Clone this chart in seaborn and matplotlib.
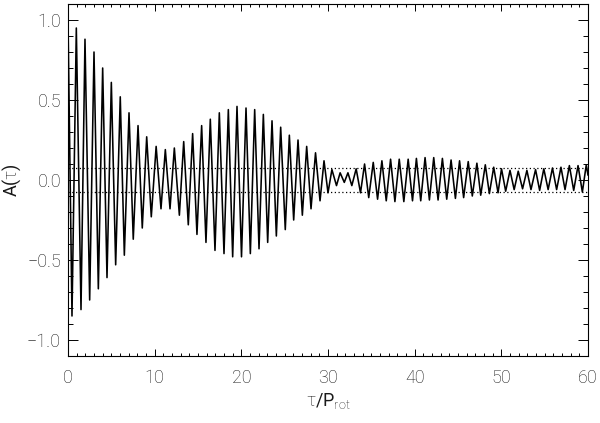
import numpy as np
import pandas as pd
import matplotlib
matplotlib.use("Agg")
import matplotlib.pyplot as plt
from matplotlib.ticker import MultipleLocator
import seaborn as sns

# ── Data: turning points of A(tau) ─────────────────────────────────────────
tau = [
    0.00, 0.46, 0.96, 1.50, 1.96, 2.50, 3.00, 3.50, 4.00, 4.50,
    5.00, 5.50, 6.03, 6.50, 7.04, 7.53, 8.08, 8.57, 9.08, 9.61,
    10.17, 10.73, 11.23, 11.77, 12.27, 12.85, 13.35, 13.88, 14.38, 14.88,
    15.42, 15.92, 16.42, 16.96, 17.46, 18.00, 18.50, 19.00, 19.50, 20.02,
    20.54, 21.04, 21.54, 22.04, 22.54, 23.04, 23.54, 24.04, 24.54, 25.07,
    25.54, 26.04, 26.54, 27.04, 27.54, 28.04, 28.56, 29.08, 29.54, 30.00,
    30.45, 30.98, 31.40, 31.88, 32.30, 32.75, 33.25, 33.75, 34.22, 34.70,
    35.22, 35.72, 36.22, 36.72, 37.22, 37.72, 38.22, 38.75, 39.25, 39.75,
    40.20, 40.70, 41.20, 41.70, 42.20, 42.70, 43.20, 43.70, 44.20, 44.70,
    45.18, 45.65, 46.18, 46.65, 47.18, 47.62, 48.15, 48.62, 49.12, 49.62,
    50.02, 50.50, 51.00, 51.48, 51.95, 52.45, 52.95, 53.42, 53.95, 54.42,
    54.90, 55.40, 55.90, 56.38, 56.88, 57.35, 57.85, 58.35, 58.85, 59.35,
    59.80, 60.00,
]
acf = [
    1.00, -0.85, 0.95, -0.81, 0.88, -0.75, 0.80, -0.68, 0.70, -0.61,
    0.61, -0.53, 0.52, -0.47, 0.42, -0.37, 0.34, -0.30, 0.27, -0.23,
    0.21, -0.18, 0.19, -0.18, 0.20, -0.22, 0.24, -0.28, 0.29, -0.34,
    0.34, -0.39, 0.38, -0.44, 0.42, -0.46, 0.44, -0.48, 0.46, -0.48,
    0.45, -0.46, 0.44, -0.43, 0.41, -0.39, 0.37, -0.35, 0.33, -0.31,
    0.28, -0.25, 0.25, -0.22, 0.21, -0.18, 0.17, -0.13, 0.12, -0.08,
    0.065, -0.035, 0.045, -0.015, 0.045, -0.035, 0.07, -0.08, 0.10, -0.11,
    0.11, -0.12, 0.12, -0.13, 0.13, -0.135, 0.13, -0.135, 0.13, -0.13,
    0.135, -0.13, 0.14, -0.125, 0.14, -0.125, 0.135, -0.12, 0.125, -0.115,
    0.12, -0.11, 0.115, -0.10, 0.105, -0.095, 0.095, -0.085, 0.08, -0.08,
    0.07, -0.07, 0.06, -0.06, 0.055, -0.055, 0.06, -0.06, 0.065, -0.065,
    0.07, -0.06, 0.075, -0.06, 0.08, -0.06, 0.09, -0.065, 0.09, -0.075,
    0.095, 0.03,
]
sig_level = 0.075  # dotted band +/-

xticks = [0, 10, 20, 30, 40, 50, 60]
yticks = [-1.0, -0.5, 0.0, 0.5, 1.0]

df = pd.DataFrame({"tau": tau, "A": acf})

# ── Style ──────────────────────────────────────────────────────────────────
sns.set_style("ticks")
plt.rcParams["font.family"] = ["Roboto", "DejaVu Sans"]
plt.rcParams["font.weight"] = "light"
plt.rcParams["mathtext.fontset"] = "custom"
plt.rcParams["mathtext.rm"] = "Roboto:light"
plt.rcParams["mathtext.it"] = "Roboto:light"
plt.rcParams["axes.unicode_minus"] = True
txt_col = "#1a1a1a"

fig = plt.figure(figsize=(6.0, 4.23), dpi=100)
ax = fig.add_axes([68 / 600, 1 - 356 / 423, 520 / 600, 352 / 423])

sns.lineplot(data=df, x="tau", y="A", sort=False, estimator=None,
             color="black", linewidth=1.15, ax=ax)
for ln in ax.get_lines():
    ln.set_solid_joinstyle("round")
for lev in (sig_level, -sig_level):
    ax.axhline(lev, color="black", linestyle=(0, (1, 2)), linewidth=0.9)

ax.set_xlim(0, 60)
ax.set_ylim(-1.1, 1.1)
ax.set_xticks(xticks)
ax.set_yticks(yticks)
ax.set_xticklabels([str(t) for t in xticks])
ax.set_yticklabels([f"{t:.1f}".replace("-", "\u2212") for t in yticks])
ax.xaxis.set_minor_locator(MultipleLocator(1))
ax.yaxis.set_minor_locator(MultipleLocator(0.1))

ax.tick_params(which="both", direction="in", top=True, right=True,
               color="black", width=0.7, labelsize=13, labelcolor=txt_col)
ax.tick_params(axis="x", which="major", length=5, pad=9)
ax.tick_params(axis="x", which="minor", length=2.5)
ax.tick_params(axis="y", which="major", length=7, pad=5)
ax.tick_params(axis="y", which="minor", length=3.6)

for s in ax.spines.values():
    s.set_color("black")
    s.set_linewidth(0.8)

ax.set_xlabel(r"$\tau$/P$_{\rm rot}$", fontsize=13, color=txt_col, labelpad=3)
ax.set_ylabel(r"A($\tau$)", fontsize=13, color=txt_col)
ax.yaxis.set_label_coords(-0.086, 0.5)

plt.savefig("out.png", dpi=100)
plt.close()
